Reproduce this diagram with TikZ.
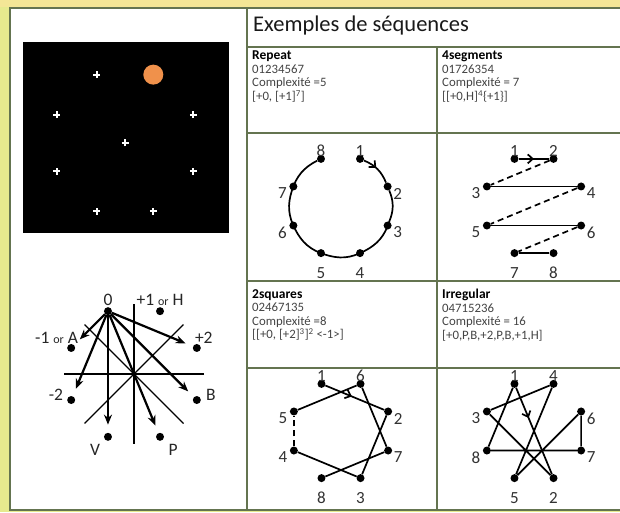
\documentclass[tikz,border=0pt]{standalone}
\usepackage{fontspec}
\setmainfont{Carlito}
\usepackage{tikz}
\usetikzlibrary{positioning,arrows.meta,calc,decorations.markings}

\definecolor{tablec}{RGB}{100,116,80}
\definecolor{txtc}{RGB}{68,68,68}
\definecolor{numc}{RGB}{50,50,50}
\definecolor{bgyel}{RGB}{230,234,142}
\definecolor{bgtop}{RGB}{244,230,150}
\definecolor{dotorange}{RGB}{240,145,75}

\newcommand{\ortxt}{{\fontsize{12pt}{12pt}\selectfont or}}
\newcommand{\seqname}[1]{{\color{black}\bfseries\fontsize{13.5pt}{13.5pt}\selectfont #1}}
% eight dots on an octagon: prefix, centre, label/position
\newcommand{\octdots}[3]{%
  \foreach \nm/\ps in {#3}{%
    \pgfmathsetmacro\ang{112.5-45*\ps}%
    \pgfmathsetmacro\lx{{0,0,10,10,0,0,-11,-11}[\ps]}%
    \pgfmathsetmacro\ly{{8,8,-7,-7,-20,-20,-7,-7}[\ps]}%
    \node[dot] (#1\nm) at ($(#2)+(\ang:51)$) {};
    \node[num] (#1n\nm) at ($(#1\nm)+(\lx,\ly)$) {\nm};
  }%
}

\begin{document}
\begin{tikzpicture}[x=1pt,y=1pt,>=Stealth,
  dot/.style={circle,fill=black,inner sep=0pt,minimum size=8pt},
  num/.style={text=numc,inner sep=0pt,font=\fontsize{17pt}{17pt}\selectfont},
  lbl/.style={text=black!85,inner sep=0pt,font=\fontsize{17.5pt}{17.5pt}\selectfont},
  seq/.style={line width=1.7pt},
  gap/.style={dash pattern=on 6pt off 4pt},
  jump/.style={line width=2.2pt,-{Stealth[length=10pt,width=8pt]},shorten >=8pt},
  crossline/.style={line width=1.3pt},
  tableline/.style={tablec,line width=1.7pt},
  fixmark/.style={white,line width=2pt},
  midarrow/.style={postaction={decorate},decoration={markings,
    mark=at position #1 with {\arrow{Straight Barb[length=5pt,width=9pt]}}}},
  celltext/.style={anchor=north west,align=left,inner sep=0pt,text=txtc,
    font=\fontsize{12.8pt}{13.5pt}\selectfont}]
  \useasboundingbox (0,0) rectangle (620,512);

  % background and table
  \fill[bgyel] (0,0) rectangle (620,512);
  \fill[bgtop] (0,505) rectangle (620,512);
  \fill[white] (10,2) rectangle (625,504);
  \draw[tableline] (10,2) rectangle (640,504);
  \draw[tableline] (247,2) -- (247,504);
  \draw[tableline] (437,2) -- (437,465);
  \draw[tableline] (247,465) -- (640,465) (247,379) -- (640,379)
    (247,231) -- (640,231) (247,144) -- (640,144);

  % stimulus screen
  \fill[black] (23,279) rectangle (229,470);
  \coordinate (fix) at (125,369);
  \foreach \ps in {0,2,3,4,5,6,7}
    \draw[fixmark] ($(fix)+({112.5-45*\ps}:74)$) +(-3.5,0) -- +(3.5,0) +(0,-3.5) -- +(0,3.5);
  \draw[fixmark] (fix) +(-3.5,0) -- +(3.5,0) +(0,-3.5) -- +(0,3.5);
  \fill[dotorange] ($(fix)+(67.5:74)$) circle (10);

  % primitives
  \coordinate (dirc) at (134,138);
  \foreach \nm/\ps in {0/0,h/1,p2/2,b/3,p/4,v/5,m2/6,a/7}
    \node[dot] (d\nm) at ($(dirc)+({112.5-45*\ps}:68)$) {};
  \foreach \a in {0,45,90,135}
    \draw[crossline] ($(dirc)+(\a:70)$) -- ($(dirc)+({\a+180}:70)$);
  \foreach \t in {a,m2,v,p,b,p2}
    \draw[jump] (d0) -- (d\t);
  \node[lbl, above=1pt of d0] (l0) {0};
  \node[lbl, above=1pt of dh] (lh) {+1 \ortxt{} H};
  \node[lbl, anchor=east] (la) at ($(da)+(7,10)$) {-1 \ortxt{} A};
  \node[lbl] (lp2) at ($(dp2)+(7,10)$) {+2};
  \node[lbl, anchor=east] (lm2) at ($(dm2)+(-8,5)$) {-2};
  \node[lbl, anchor=west] (lb) at ($(db)+(9,5)$) {B};
  \node[lbl] (lv) at ($(dv)+(-13,-13)$) {V};
  \node[lbl] (lp) at ($(dp)+(13,-13)$) {P};

  % title and cell texts
  \node[anchor=west,inner sep=0pt,text=black!90,font=\fontsize{22.5pt}{24pt}\selectfont]
    (ttl) at (253,486) {Exemples de séquences};
  \node[celltext] (trep) at (252,461)
    {\seqname{Repeat}\\01234567\\Complexité =5\\{[}+0, [+1]\textsuperscript{7}]};
  \node[celltext] (tseg) at (442,461)
    {\seqname{4segments}\\01726354\\Complexité = 7\\{[}[+0,H]\textsuperscript{4}\{+1\}]};
  \node[celltext] (tsq) at (252,223)
    {\seqname{2squares}\\02467135\\Complexité =8\\{[}[+0, [+2]\textsuperscript{3}]\textsuperscript{2} <-1>]};
  \node[celltext] (tirr) at (442,223)
    {\seqname{Irregular}\\04715236\\Complexité = 16\\{[}+0,P,B,+2,P,B,+1,H]};

  % Repeat
  \coordinate (repc) at (340.5,306);
  \octdots{rep}{repc}{1/1,2/2,3/3,4/4,5/5,6/6,7/7,8/0}
  \draw[seq, midarrow=.45] (rep1) to[bend left=22.5] (rep2);
  \draw[seq, bend left=22.5] (rep2) to (rep3) to (rep4) to (rep5) to (rep6) to (rep7) to (rep8);

  % 4segments
  \coordinate (segc) at (534,306);
  \octdots{seg}{segc}{1/0,2/1,3/7,4/2,5/6,6/3,7/5,8/4}
  \draw[seq, midarrow=.5] (seg1) -- (seg2);
  \draw[seq] (seg3) -- (seg4) (seg5) -- (seg6) (seg7) -- (seg8);
  \draw[seq, gap] (seg2) -- (seg3) (seg4) -- (seg5) (seg6) -- (seg7);

  % 2squares
  \coordinate (sqc) at (341,81);
  \octdots{sq}{sqc}{1/0,2/2,3/4,4/6,5/7,6/1,7/3,8/5}
  \draw[seq, midarrow=.45] (sq1) -- (sq2);
  \draw[seq] (sq2) -- (sq3) -- (sq4) (sq5) -- (sq6) -- (sq7) -- (sq8);
  \draw[seq, gap] (sq4) -- (sq5);

  % Irregular
  \coordinate (irrc) at (534,81);
  \octdots{irr}{irrc}{1/0,2/4,3/7,4/1,5/5,6/2,7/3,8/6}
  \draw[seq, midarrow=.35] (irr1) -- (irr2);
  \draw[seq] (irr2) -- (irr3) -- (irr4) -- (irr5) -- (irr6) -- (irr7) -- (irr8) -- (irr1);
\end{tikzpicture}
\end{document}
